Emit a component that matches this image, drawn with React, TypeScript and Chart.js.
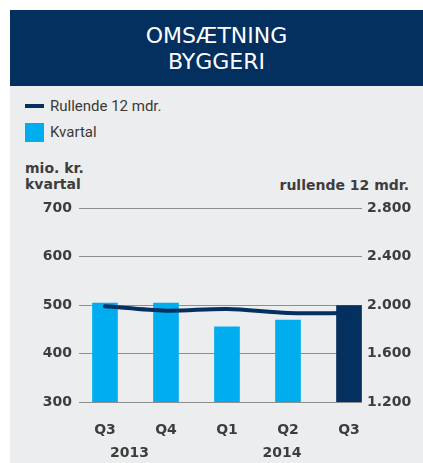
import React, { useEffect, useRef } from "react";
import { Chart, registerables } from "chart.js";

Chart.register(...registerables);

const quarters = ["Q3", "Q4", "Q1", "Q2", "Q3"];
const kvartal = [504, 504, 455, 469, 499];
const rullende = [1990, 1953, 1967, 1934, 1934];
const years = ["2013", "2014"];
const yearFirst = [0, 2];
const yearLast = [1, 4];
const leftTicks = [300, 400, 500, 600, 700];
const rightTicks = [1200, 1600, 2000, 2400, 2800];

const NAVY = "#03305f";
const LIGHT = "#00adef";
const BG = "#ecedee";
const TEXT = "#3d3d3d";
const GRID = "#8e8e8e";
const TICK_FONT = { family: "'DejaVu Sans'", size: 14, weight: "bold" as const };

const fmt = (v: number) => String(v).replace(/\B(?=(\d{3})+(?!\d))/g, ".");

const yearPlugin = {
  id: "yearLabels",
  afterDraw(chart: any) {
    const { ctx, chartArea, scales } = chart;
    ctx.save();
    ctx.font = "bold 14px 'DejaVu Sans'";
    ctx.fillStyle = TEXT;
    ctx.textAlign = "center";
    ctx.textBaseline = "middle";
    years.forEach((y, i) => {
      const x = scales.x.getPixelForValue((yearFirst[i] + yearLast[i]) / 2) - 6;
      ctx.fillText(y, x, chartArea.bottom + 51);
    });
    ctx.restore();
  },
};

export default function App() {
  const ref = useRef<HTMLCanvasElement>(null);

  useEffect(() => {
    if (!ref.current) return;
    const chart = new Chart(ref.current, {
      type: "bar",
      data: {
        datasets: [
          {
            type: "line",
            label: "Rullende 12 mdr.",
            data: rullende.map((v, i) => ({ x: i, y: v })),
            yAxisID: "y1",
            borderColor: NAVY,
            borderWidth: 4,
            pointRadius: 0,
            borderCapStyle: "round",
            tension: 0.3,
            order: 0,
          } as any,
          {
            type: "bar",
            label: "Kvartal",
            data: kvartal.map((v, i) => ({ x: i, y: v })),
            yAxisID: "y",
            backgroundColor: kvartal.map((_, i) => (i === kvartal.length - 1 ? NAVY : LIGHT)),
            barThickness: 25,
            order: 1,
          } as any,
        ],
      },
      options: {
        animation: false,
        responsive: false,
        maintainAspectRatio: false,
        layout: { padding: { top: 58, left: 0, right: 0, bottom: 0 } },
        plugins: { legend: { display: false }, tooltip: { enabled: false } },
        scales: {
          x: {
            type: "linear",
            offset: false,
            min: -0.426,
            max: 4.213,
            grid: { display: false, drawTicks: false, offset: false },
            border: { display: false },
            afterFit: (s: any) => {
              s.height = 61;
            },
            afterBuildTicks: (s: any) => {
              s.ticks = quarters.map((_, i) => ({ value: i }));
            },
            ticks: {
              stepSize: 1,
              includeBounds: false,
              autoSkip: false,
              maxRotation: 0,
              padding: 20,
              color: TEXT,
              font: TICK_FONT,
              callback: (v: any) => quarters[Number(v)] ?? "",
            },
          } as any,
          y: {
            position: "left",
            min: 300,
            max: 700,
            afterFit: (s: any) => {
              s.width = 69;
            },
            afterBuildTicks: (s: any) => {
              s.ticks = leftTicks.map((v) => ({ value: v }));
            },
            grid: { color: GRID, lineWidth: 1, drawTicks: false },
            border: { display: false },
            ticks: { padding: 7, color: TEXT, font: TICK_FONT },
          } as any,
          y1: {
            position: "right",
            min: 1200,
            max: 2800,
            afterFit: (s: any) => {
              s.width = 61;
            },
            afterBuildTicks: (s: any) => {
              s.ticks = rightTicks.map((v) => ({ value: v }));
            },
            grid: { display: false, drawTicks: false },
            border: { display: false },
            ticks: {
              padding: 5,
              color: TEXT,
              font: TICK_FONT,
              callback: (v: any) => fmt(Number(v)),
            },
          } as any,
        },
      },
      plugins: [yearPlugin],
    });
    return () => chart.destroy();
  }, []);

  const legendText: React.CSSProperties = {
    position: "absolute",
    left: 40,
    fontFamily: "Roboto, sans-serif",
    fontSize: 15,
    color: "#3a3a3a",
    lineHeight: "16px",
    whiteSpace: "nowrap",
  };
  const axisTitle: React.CSSProperties = {
    position: "absolute",
    fontFamily: "'DejaVu Sans', sans-serif",
    fontWeight: "bold",
    fontSize: 14,
    color: TEXT,
    lineHeight: "16px",
    whiteSpace: "nowrap",
  };

  return (
    <div
      style={{
        position: "fixed",
        left: 10,
        top: 10,
        width: 413,
        height: 453,
        background: BG,
        overflow: "hidden",
      }}
    >
      <div
        style={{
          position: "absolute",
          left: 0,
          top: 0,
          width: 413,
          height: 76,
          background: NAVY,
          color: "#ffffff",
          textAlign: "center",
          fontFamily: "'DejaVu Sans', sans-serif",
          fontSize: 22,
          lineHeight: "26px",
          paddingTop: 13,
          boxSizing: "border-box",
        }}
      >
        <div>OMSÆTNING</div>
        <div>BYGGERI</div>
      </div>

      <div style={{ position: "absolute", left: 15, top: 94, width: 19, height: 4, background: NAVY }} />
      <div style={{ ...legendText, top: 88 }}>Rullende 12 mdr.</div>
      <div style={{ position: "absolute", left: 15, top: 113, width: 19, height: 19, background: LIGHT }} />
      <div style={{ ...legendText, top: 114 }}>Kvartal</div>

      <div style={{ ...axisTitle, left: 15, top: 150 }}>mio. kr.</div>
      <div style={{ ...axisTitle, left: 15, top: 166 }}>kvartal</div>
      <div style={{ ...axisTitle, right: 14, top: 167 }}>rullende 12 mdr.</div>

      <canvas
        ref={ref}
        width={413}
        height={313}
        style={{ position: "absolute", left: 0, top: 140, width: 413, height: 313 }}
      />
    </div>
  );
}
